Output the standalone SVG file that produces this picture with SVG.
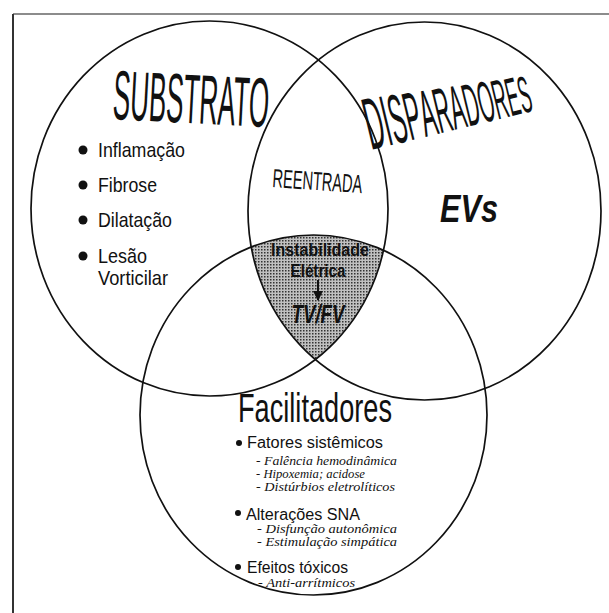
<svg xmlns="http://www.w3.org/2000/svg" width="609" height="613" viewBox="0 0 609 613">
<style>
.ring{fill:none;stroke:#111;stroke-width:1.7}
.cond{font-family:"Liberation Sans","DejaVu Sans",sans-serif;fill:#111}
.sub{font-family:"Liberation Serif","DejaVu Serif",serif;font-style:italic;font-size:12px;fill:#111}
.item{font-family:"Liberation Sans",Arial,sans-serif;font-size:16px;fill:#111}
</style>
<defs>
<pattern id="dots" width="3" height="3" patternUnits="userSpaceOnUse">
<rect width="3" height="3" fill="#c0c0c0"/>
<rect width="1.5" height="1.5" fill="#333"/>
</pattern>
<clipPath id="cL"><ellipse cx="209.5" cy="208.5" rx="178.5" ry="187.5"/></clipPath>
<clipPath id="cR"><ellipse cx="424.5" cy="211" rx="176.5" ry="189"/></clipPath>
<marker id="ah" viewBox="0 0 10 10" refX="9" refY="5" markerWidth="5" markerHeight="5" orient="auto"><path d="M0,0 L10,5 L0,10 z" fill="#111"/></marker>
</defs>
<rect width="609" height="613" fill="#fff"/>
<line x1="13" y1="14" x2="609" y2="14" stroke="#666" stroke-width="1.5"/>
<line x1="13" y1="14" x2="13" y2="613" stroke="#333" stroke-width="2"/>

<g id="shaded">
<g clip-path="url(#cL)"><g clip-path="url(#cR)">
<ellipse cx="313.5" cy="415" rx="173.5" ry="180" fill="url(#dots)"/>
</g></g>
</g>

<g id="substrato">
<ellipse class="ring" cx="209.5" cy="208.5" rx="178.5" ry="187.5"/>
<text class="cond" x="112" y="119" font-size="70" textLength="156" lengthAdjust="spacingAndGlyphs" transform="rotate(3 112 119)">SUBSTRATO</text>
<circle cx="83" cy="150" r="4.5" fill="#111"/>
<text class="cond" x="98" y="157" font-size="21" textLength="87" lengthAdjust="spacingAndGlyphs">Inflamação</text>
<circle cx="83" cy="185" r="4.5" fill="#111"/>
<text class="cond" x="98" y="192" font-size="21" textLength="59" lengthAdjust="spacingAndGlyphs">Fibrose</text>
<circle cx="83" cy="220" r="4.5" fill="#111"/>
<text class="cond" x="98" y="227" font-size="21" textLength="74" lengthAdjust="spacingAndGlyphs">Dilatação</text>
<circle cx="83" cy="256" r="4.5" fill="#111"/>
<text class="cond" x="98" y="263" font-size="21" textLength="49" lengthAdjust="spacingAndGlyphs">Lesão</text>
<text class="cond" x="98" y="285" font-size="21" textLength="70" lengthAdjust="spacingAndGlyphs">Vorticilar</text>
</g>

<g id="disparadores">
<ellipse class="ring" cx="424.5" cy="211" rx="176.5" ry="189"/>
<text class="cond" x="371" y="150" textLength="168" lengthAdjust="spacingAndGlyphs" transform="rotate(-13.5 371 150)"><tspan font-size="74">D</tspan><tspan font-size="72">I</tspan><tspan font-size="70">S</tspan><tspan font-size="68">P</tspan><tspan font-size="66">A</tspan><tspan font-size="64">R</tspan><tspan font-size="62">A</tspan><tspan font-size="60">D</tspan><tspan font-size="58">O</tspan><tspan font-size="56">R</tspan><tspan font-size="54">E</tspan><tspan font-size="52">S</tspan></text>
<text class="cond" x="440" y="222" font-size="38" font-weight="bold" font-style="italic" textLength="58" lengthAdjust="spacingAndGlyphs">EVs</text>
</g>

<g id="reentrada">
<text class="cond" x="272" y="187" font-size="26" textLength="90" lengthAdjust="spacingAndGlyphs" transform="rotate(4 272 187)">REENTRADA</text>
</g>

<g id="facilitadores">
<ellipse class="ring" cx="313.5" cy="415" rx="173.5" ry="180"/>
<text class="cond" x="238" y="422" font-size="40" textLength="154" lengthAdjust="spacingAndGlyphs">Facilitadores</text>
<circle cx="239" cy="443" r="3" fill="#111"/>
<text class="item" x="247" y="448" textLength="136" lengthAdjust="spacingAndGlyphs">Fatores sistêmicos</text>
<text class="sub" x="256" y="465" textLength="141" lengthAdjust="spacingAndGlyphs">- Falência hemodinâmica</text>
<text class="sub" x="256" y="478" textLength="109" lengthAdjust="spacingAndGlyphs">- Hipoxemia; acidose</text>
<text class="sub" x="256" y="491" textLength="139" lengthAdjust="spacingAndGlyphs">- Distúrbios eletrolíticos</text>
<circle cx="238" cy="513" r="3" fill="#111"/>
<text class="item" x="246" y="520" textLength="114" lengthAdjust="spacingAndGlyphs">Alterações SNA</text>
<text class="sub" x="257" y="533" textLength="140" lengthAdjust="spacingAndGlyphs">- Disfunção autonômica</text>
<text class="sub" x="257" y="546" textLength="140" lengthAdjust="spacingAndGlyphs">- Estimulação simpática</text>
<circle cx="238" cy="567" r="3" fill="#111"/>
<text class="item" x="247" y="573" textLength="101" lengthAdjust="spacingAndGlyphs">Efeitos tóxicos</text>
<text class="sub" x="258" y="587" textLength="97" lengthAdjust="spacingAndGlyphs">- Anti-arrítmicos</text>
</g>

<g id="centro">
<text class="cond" x="320" y="256" font-size="18" font-weight="bold" text-anchor="middle" textLength="98" lengthAdjust="spacingAndGlyphs">Instabilidade</text>
<text class="cond" x="318" y="277" font-size="18" font-weight="bold" text-anchor="middle" textLength="55" lengthAdjust="spacingAndGlyphs">Elétrica</text>
<text class="cond" x="318" y="323" font-size="25" font-weight="bold" font-style="italic" text-anchor="middle" textLength="53" lengthAdjust="spacingAndGlyphs">TV/FV</text>
</g>

<g id="connectors">
<line x1="318" y1="280" x2="318" y2="300" stroke="#111" stroke-width="2" marker-end="url(#ah)"/>
</g>
</svg>
